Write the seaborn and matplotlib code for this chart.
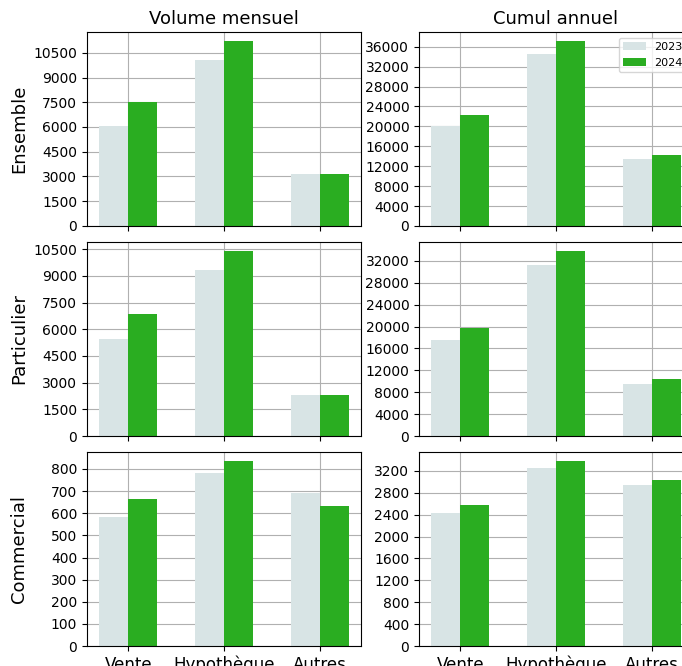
import pandas as pd
import matplotlib
matplotlib.use("Agg")
import matplotlib.pyplot as plt
import seaborn as sns
from matplotlib.ticker import MaxNLocator

# categories / series
categories = ["Vente", "Hypothèque", "Autres"]
years = ["2023", "2024"]
segments = ["Ensemble", "Particulier", "Commercial"]
periods = ["Volume mensuel", "Cumul annuel"]

# values
ens_mensuel_2023 = [6040, 10050, 3130]
ens_mensuel_2024 = [7500, 11200, 3150]
ens_cumul_2023 = [20000, 34500, 13400]
ens_cumul_2024 = [22250, 37100, 14200]

par_mensuel_2023 = [5440, 9320, 2290]
par_mensuel_2024 = [6840, 10390, 2290]
par_cumul_2023 = [17500, 31200, 9450]
par_cumul_2024 = [19700, 33770, 10360]

com_mensuel_2023 = [581, 780, 690]
com_mensuel_2024 = [663, 835, 631]
com_cumul_2023 = [2426, 3249, 2938]
com_cumul_2024 = [2572, 3377, 3029]

panels = [
    [(ens_mensuel_2023, ens_mensuel_2024), (ens_cumul_2023, ens_cumul_2024)],
    [(par_mensuel_2023, par_mensuel_2024), (par_cumul_2023, par_cumul_2024)],
    [(com_mensuel_2023, com_mensuel_2024), (com_cumul_2023, com_cumul_2024)],
]

colors = ["#d8e4e5", "#2aad21"]

fig, axes = plt.subplots(3, 2, figsize=(6.82, 6.66), dpi=100)
fig.subplots_adjust(left=0.1276, right=1.0161, bottom=0.03, top=0.952,
                    wspace=0.2117, hspace=0.0825)

for r in range(3):
    for c in range(2):
        ax = axes[r, c]
        v23, v24 = panels[r][c]
        df = pd.DataFrame({
            "type": categories * 2,
            "val": list(v23) + list(v24),
            "annee": [years[0]] * 3 + [years[1]] * 3,
        })
        show_leg = (r == 0 and c == 1)
        sns.barplot(data=df, x="type", y="val", hue="annee", palette=colors,
                    width=0.6, saturation=1, errorbar=None, ax=ax, legend=show_leg)
        ax.autoscale(enable=True, axis="x")
        ax.yaxis.set_major_locator(MaxNLocator(integer=True))
        ax.grid(True)
        ax.set_axisbelow(True)
        ax.set_xlabel("")
        ax.set_ylabel(segments[r] if c == 0 else "", fontsize=13)
        ax.tick_params(axis="y", labelsize=10)
        if r == 0:
            ax.set_title(periods[c], fontsize=13)
        if r < 2:
            ax.tick_params(axis="x", labelbottom=False)
        else:
            ax.tick_params(axis="x", labelsize=12)
        if show_leg:
            leg = ax.get_legend()
            handles = leg.legend_handles
            labels = [t.get_text() for t in leg.get_texts()]
            ax.legend(handles, labels, loc="upper right", fontsize=8)

fig.align_ylabels(axes[:, 0])
fig.savefig("out.png", dpi=100)
